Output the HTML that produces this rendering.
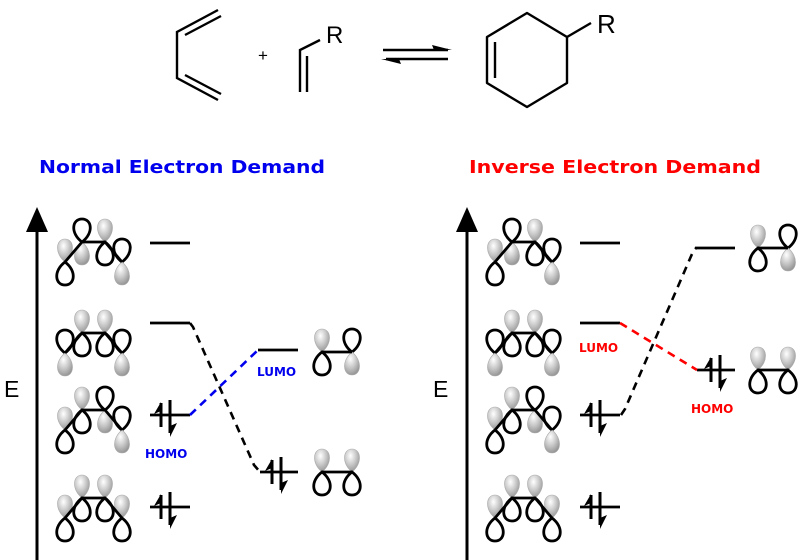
<!DOCTYPE html>
<html><head><meta charset="utf-8"><style>html,body{margin:0;padding:0;background:#fff}svg{display:block}</style></head>
<body>
<svg width="800" height="560" viewBox="0 0 800 560" xmlns="http://www.w3.org/2000/svg">
<defs>
<radialGradient id="g" cx="0.4" cy="0.3" r="0.85">
<stop offset="0" stop-color="#ffffff"/><stop offset="0.45" stop-color="#c8c8c8"/><stop offset="1" stop-color="#808080"/>
</radialGradient>
<path id="wu" d="M0,0 C-12,-9 -10,-23 0,-23 C10,-23 12,-9 0,0 Z" fill="#fff" stroke="#000" stroke-width="2.8"/>
<path id="wd" d="M0,0 C-12,9 -10,23 0,23 C10,23 12,9 0,0 Z" fill="#fff" stroke="#000" stroke-width="2.8"/>
<path id="gu" d="M0,0 C-11,-9 -9,-23 0,-23 C9,-23 11,-9 0,0 Z" fill="url(#g)" stroke="#aaa" stroke-width="0.6"/>
<path id="gd" d="M0,0 C-11,9 -9,23 0,23 C9,23 11,9 0,0 Z" fill="url(#g)" stroke="#aaa" stroke-width="0.6"/>
<g id="e">
<line x1="0" y1="-12" x2="0" y2="12" stroke="#000" stroke-width="3"/>
<polygon points="0,-13 -7,-1 0,-4" fill="#000"/>
<line x1="9" y1="-15" x2="9" y2="18" stroke="#000" stroke-width="3"/>
<polygon points="9,22 16,8 9,11" fill="#000"/>
</g>
<g id="r1"><use href="#gu" x="65" y="20"/><use href="#wd" x="65" y="20"/><use href="#wu" x="82" y="0"/><use href="#gd" x="82" y="0"/><use href="#gu" x="105" y="0"/><use href="#wd" x="105" y="0"/><use href="#wu" x="122" y="20"/><use href="#gd" x="122" y="20"/><polyline points="65,20 82,0 105,0 122,20" fill="none" stroke="#000" stroke-width="2.8"/></g>
<g id="r2"><use href="#wu" x="65" y="20"/><use href="#gd" x="65" y="20"/><use href="#gu" x="82" y="0"/><use href="#wd" x="82" y="0"/><use href="#gu" x="105" y="0"/><use href="#wd" x="105" y="0"/><use href="#wu" x="122" y="20"/><use href="#gd" x="122" y="20"/><polyline points="65,20 82,0 105,0 122,20" fill="none" stroke="#000" stroke-width="2.8"/></g>
<g id="r3"><use href="#gu" x="65" y="20"/><use href="#wd" x="65" y="20"/><use href="#gu" x="82" y="0"/><use href="#wd" x="82" y="0"/><use href="#wu" x="105" y="0"/><use href="#gd" x="105" y="0"/><use href="#wu" x="122" y="20"/><use href="#gd" x="122" y="20"/><polyline points="65,20 82,0 105,0 122,20" fill="none" stroke="#000" stroke-width="2.8"/></g>
<g id="r4"><use href="#gu" x="65" y="20"/><use href="#wd" x="65" y="20"/><use href="#gu" x="82" y="0"/><use href="#wd" x="82" y="0"/><use href="#gu" x="105" y="0"/><use href="#wd" x="105" y="0"/><use href="#gu" x="122" y="20"/><use href="#wd" x="122" y="20"/><polyline points="65,20 82,0 105,0 122,20" fill="none" stroke="#000" stroke-width="2.8"/></g>
<g id="eL"><use href="#gu" x="0" y="0"/><use href="#wd" x="0" y="0"/><use href="#wu" x="30" y="0"/><use href="#gd" x="30" y="0"/><line x1="0" y1="0" x2="30" y2="0" stroke="#000" stroke-width="2.8"/></g>
<g id="eH"><use href="#gu" x="0" y="0"/><use href="#wd" x="0" y="0"/><use href="#gu" x="30" y="0"/><use href="#wd" x="30" y="0"/><line x1="0" y1="0" x2="30" y2="0" stroke="#000" stroke-width="2.8"/></g>
</defs>

<g fill="none" stroke="#000" stroke-width="2.4">
<polyline points="218,10 177,32 177,78 218,100"/>
<line x1="185" y1="35" x2="221" y2="16"/>
<line x1="185" y1="75" x2="221" y2="94"/>
<polyline points="300,92 300,50 320,40"/>
<line x1="307" y1="56" x2="307" y2="92"/>
<line x1="383" y1="50" x2="448" y2="50"/>
<line x1="386" y1="59" x2="448" y2="59"/>
<polygon points="527,13 567,37 567,83 527,107 487,83 487,37" stroke-linejoin="round"/>
<line x1="495" y1="42" x2="495" y2="78"/>
<line x1="567" y1="37" x2="591" y2="23"/>
</g>
<polygon points="452,50 432,45 434,50" fill="#000"/>
<polygon points="381,59 401,64 399,59" fill="#000"/>
<text x="263" y="61" font-family="Liberation Sans, sans-serif" font-size="17" text-anchor="middle">+</text>
<text x="326" y="43" font-family="Liberation Sans, sans-serif" font-size="24">R</text>
<text x="597" y="33" font-family="Liberation Sans, sans-serif" font-size="26">R</text>

<text x="39" y="173" font-family="DejaVu Sans, sans-serif" font-weight="bold" font-size="18" fill="#0000ee" textLength="286" lengthAdjust="spacingAndGlyphs">Normal Electron Demand</text>
<text x="469" y="173" font-family="DejaVu Sans, sans-serif" font-weight="bold" font-size="18" fill="#ff0000" textLength="292" lengthAdjust="spacingAndGlyphs">Inverse Electron Demand</text>

<line x1="37" y1="228" x2="37" y2="560" stroke="#000" stroke-width="3"/>
<polygon points="37,207 26,232 48,232" fill="#000"/>
<text x="4" y="397" font-family="Liberation Sans, sans-serif" font-size="23">E</text>
<use href="#r1" x="0" y="242"/>
<use href="#r2" x="0" y="333"/>
<use href="#r3" x="0" y="410"/>
<use href="#r4" x="0" y="498"/>
<g stroke="#000" stroke-width="2.8">
<line x1="150" y1="243" x2="190" y2="243"/>
<line x1="150" y1="323" x2="190" y2="323"/>
<line x1="150" y1="415" x2="190" y2="415"/>
<line x1="150" y1="507" x2="190" y2="507"/>
<line x1="258" y1="350" x2="298" y2="350"/>
<line x1="260" y1="472" x2="298" y2="472"/>
</g>
<use href="#e" x="161" y="415"/>
<use href="#e" x="161" y="507"/>
<use href="#e" x="272" y="472"/>
<use href="#eL" x="322" y="352"/>
<use href="#eH" x="322" y="472"/>
<path d="M190,323 L193,327 L254,465 L260,472" fill="none" stroke="#000" stroke-width="2.6" stroke-dasharray="8,6"/>
<path d="M190,415 L258,350" fill="none" stroke="#0000ee" stroke-width="2.6" stroke-dasharray="8,6"/>
<text x="145" y="458" font-family="DejaVu Sans, sans-serif" font-weight="bold" font-size="12" fill="#0000ee">HOMO</text>
<text x="257" y="376" font-family="DejaVu Sans, sans-serif" font-weight="bold" font-size="12" fill="#0000ee">LUMO</text>

<line x1="467" y1="228" x2="467" y2="560" stroke="#000" stroke-width="3"/>
<polygon points="467,207 456,232 478,232" fill="#000"/>
<text x="433" y="397" font-family="Liberation Sans, sans-serif" font-size="23">E</text>
<use href="#r1" x="430" y="242"/>
<use href="#r2" x="430" y="333"/>
<use href="#r3" x="430" y="410"/>
<use href="#r4" x="430" y="498"/>
<g stroke="#000" stroke-width="2.8">
<line x1="580" y1="243" x2="620" y2="243"/>
<line x1="580" y1="323" x2="620" y2="323"/>
<line x1="580" y1="415" x2="620" y2="415"/>
<line x1="580" y1="507" x2="620" y2="507"/>
<line x1="695" y1="248" x2="735" y2="248"/>
<line x1="697" y1="370" x2="735" y2="370"/>
</g>
<use href="#e" x="591" y="415"/>
<use href="#e" x="591" y="507"/>
<use href="#e" x="711" y="370"/>
<use href="#eL" x="758" y="248"/>
<use href="#eH" x="758" y="370"/>
<path d="M621,415 L625,409 L692,254 L696,248" fill="none" stroke="#000" stroke-width="2.6" stroke-dasharray="8,6"/>
<path d="M620,323 L697,370" fill="none" stroke="#ff0000" stroke-width="2.6" stroke-dasharray="8,6"/>
<text x="579" y="352" font-family="DejaVu Sans, sans-serif" font-weight="bold" font-size="12" fill="#ff0000">LUMO</text>
<text x="691" y="413" font-family="DejaVu Sans, sans-serif" font-weight="bold" font-size="12" fill="#ff0000">HOMO</text>
</svg>
</body></html>
